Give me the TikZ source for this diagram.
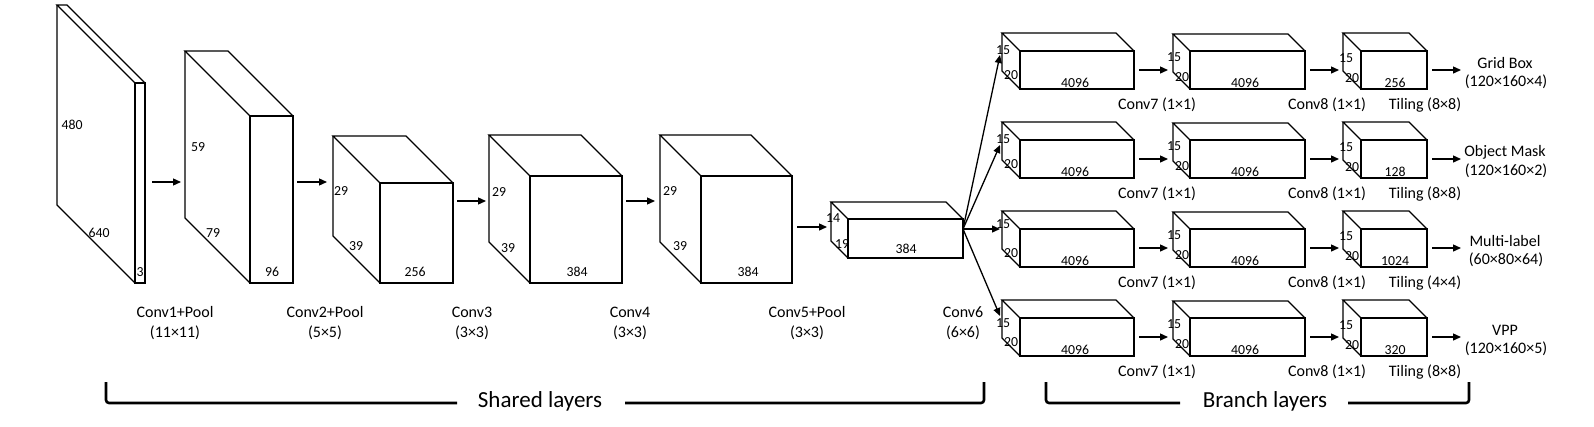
\documentclass[tikz,border=0pt]{standalone}
\usepackage{fontspec}
\setmainfont{Carlito}
\usetikzlibrary{arrows.meta}
\tikzset{
 face/.style={draw, line width=1.3pt, inner sep=0pt, outer sep=0pt, fill=white},
 edge/.style={line width=1.3pt, line join=miter},
 arr/.style={line width=1.3pt, -{Triangle[length=8pt,width=7pt]}},
 dim/.style={font=\fontsize{13.8}{15}\selectfont, inner sep=0pt},
 lab/.style={font=\fontsize{16}{17}\selectfont, inner sep=0pt},
 big/.style={font=\fontsize{23}{25}\selectfont, inner sep=0pt},
 brk/.style={line width=2.6pt, rounded corners=3pt},
}
% #1 name, #2 x, #3 y (front face top-left), #4 width, #5 height, #6 depth
\newcommand\cuboid[6]{%
 \node[face, minimum width=#4pt, minimum height=#5pt, anchor=north west] (#1) at (#2,#3) {};
 \draw[edge] (#1.north west) -- ++(-#6,-#6) coordinate (#1-btl) -- ++(#4,0) coordinate (#1-btr) -- (#1.north east);
 \draw[edge] (#1-btl) -- ++(0,#5) coordinate (#1-bbl) -- (#1.south west);
}
\begin{document}
\begin{tikzpicture}[x=1pt,y=-1pt]
\useasboundingbox (0,0) rectangle (1594,426);

% shared layers
\cuboid{b1}{135}{83}{10}{200}{78}
\cuboid{b2}{250}{116}{43}{167}{65}
\cuboid{b3}{380}{183}{73}{100}{47}
\cuboid{b4}{530}{176}{92}{107}{41}
\cuboid{b5}{701}{176}{91}{107}{41}
\cuboid{b6}{848}{219}{115}{39}{17}

\node[dim] (l480) at (72,125) {480};
\node[dim] (l640) at (99,233) {640};
\node[dim] (l3) at (140,272) {3};
\node[dim] (l59) at (198,147) {59};
\node[dim] (l79) at (213,233) {79};
\node[dim] (l96) at (272,272) {96};
\node[dim] (l3a) at (341,191) {29};
\node[dim] (l3b) at (356,246) {39};
\node[dim] (l3c) at (415,272) {256};
\node[dim] (l4a) at (499,192) {29};
\node[dim] (l4b) at (508,248) {39};
\node[dim] (l4c) at (577,272) {384};
\node[dim] (l5a) at (670,191) {29};
\node[dim] (l5b) at (680,246) {39};
\node[dim] (l5c) at (748,272) {384};
\node[dim] (l6a) at (833,218) {14};
\node[dim] (l6b) at (842,244) {19};
\node[dim] (l6c) at (906,249) {384};

\coordinate (s1) at (152,182); \coordinate (e1) at (181,182);
\coordinate (s2) at (297,182); \coordinate (e2) at (327,182);
\coordinate (s3) at (457,201); \coordinate (e3) at (486,201);
\coordinate (s4) at (626,201); \coordinate (e4) at (655,201);
\coordinate (s5) at (797,227); \coordinate (e5) at (827,227);
\foreach \i in {1,...,5} \draw[arr] (s\i) -- (e\i);

\node[lab, align=center] (c1) at (175,323) {Conv1+Pool\\[3pt](11×11)};
\node[lab, align=center] (c2) at (325,323) {Conv2+Pool\\[3pt](5×5)};
\node[lab, align=center] (c3) at (472,323) {Conv3\\[3pt](3×3)};
\node[lab, align=center] (c4) at (630,323) {Conv4\\[3pt](3×3)};
\node[lab, align=center] (c5) at (807,323) {Conv5+Pool\\[3pt](3×3)};
\node[lab, align=center] (c6) at (963,323) {Conv6\\[3pt](6×6)};

\coordinate (fan) at (963,229);

% branches
\foreach \r/\c/\oa/\ob/\tl/\fs/\ft in {1/256/Grid Box/(120×160×4)/Tiling (8×8)/50/55,
  2/128/Object Mask/(120×160×2)/Tiling (8×8)/139/145,
  3/1024/Multi-label/(60×80×64)/Tiling (4×4)/224/229,
  4/320/VPP/(120×160×5)/Tiling (8×8)/323/316}{
 \pgfmathsetmacro\T{33+89*(\r-1)}
 \cuboid{A\r}{1020}{\T+18}{114}{38}{18}
 \cuboid{B\r}{1190}{\T+18}{115}{38}{17}
 \cuboid{C\r}{1361}{\T+18}{66}{38}{18}
 \node[dim] (A\r a) at (1003,\fs) {15};
 \node[dim] (A\r b) at (1011,\T+42) {20};
 \node[dim] (A\r c) at (1075,\T+50) {4096};
 \node[dim] (B\r a) at (1174,\T+24) {15};
 \node[dim] (B\r b) at (1182,\T+44) {20};
 \node[dim] (B\r c) at (1245,\T+50) {4096};
 \node[dim] (C\r a) at (1346,\T+25) {15};
 \node[dim] (C\r b) at (1352,\T+45) {20};
 \node[dim] (C\r c) at (1395,\T+50) {\c};
 \coordinate (p\r s) at (1139,\T+37); \coordinate (p\r e) at (1168,\T+37);
 \coordinate (q\r s) at (1310,\T+37); \coordinate (q\r e) at (1339,\T+37);
 \coordinate (o\r s) at (1432,\T+37); \coordinate (o\r e) at (1461,\T+37);
 \draw[arr] (p\r s) -- (p\r e);
 \draw[arr] (q\r s) -- (q\r e);
 \draw[arr] (o\r s) -- (o\r e);
 \node[lab] (O\r a) at (1505,\T+30) {\oa};
 \node[lab] (O\r b) at (1506,\T+49) {\ob};
 \node[lab] (L\r a) at (1157,\T+72) {Conv7 (1×1)};
 \node[lab] (L\r b) at (1327,\T+72) {Conv8 (1×1)};
 \node[lab] (L\r c) at (1425,\T+72) {\tl};
 \coordinate (t\r) at (1000,\ft);
 \draw[arr] (fan) -- (t\r);
}

% brackets
\node[big] (shared) at (540,401) {Shared layers};
\node[big] (branch) at (1265,401) {Branch layers};
\coordinate (sa) at (106,382); \coordinate (sb) at (457,403);
\coordinate (sc) at (625,403); \coordinate (sd) at (984,382);
\coordinate (ba) at (1046,382); \coordinate (bb) at (1180,403);
\coordinate (bc) at (1348,403); \coordinate (bd) at (1469,382);
\draw[brk] (sa) |- (sb);
\draw[brk] (sc) -| (sd);
\draw[brk] (ba) |- (bb);
\draw[brk] (bc) -| (bd);
\end{tikzpicture}
\end{document}
